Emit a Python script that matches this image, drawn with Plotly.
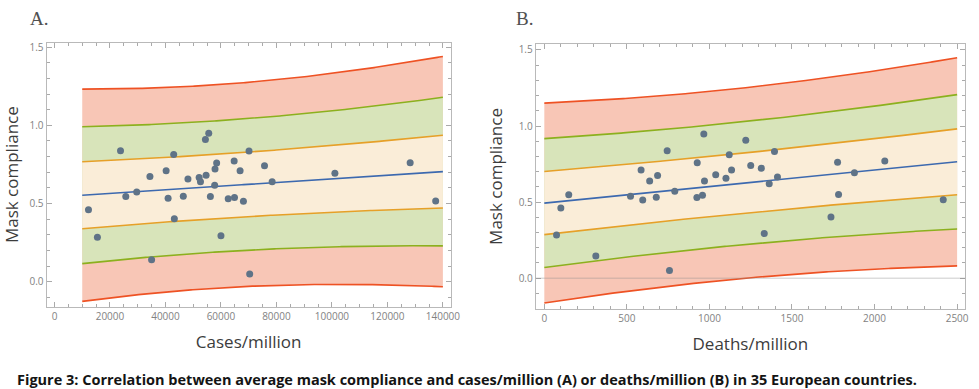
import numpy as np
import plotly.graph_objects as go

# ---------------- data ----------------
cases_per_million = [12250, 15470, 23800, 25700, 29640, 34400, 35000, 40240, 40950, 42970,
                     43200, 46430, 48100, 52140, 52620, 54400, 55600, 54640, 56190, 57740,
                     57860, 58450, 60000, 62620, 64760, 64880, 66900, 68100, 70120, 70360,
                     75700, 78450, 101070, 128200, 137400]
compliance_a = [0.461, 0.285, 0.837, 0.545, 0.573, 0.672, 0.141, 0.710, 0.533, 0.814,
                0.402, 0.547, 0.657, 0.666, 0.640, 0.909, 0.949, 0.680, 0.545, 0.617,
                0.721, 0.759, 0.294, 0.531, 0.772, 0.539, 0.710, 0.514, 0.835, 0.049,
                0.742, 0.640, 0.693, 0.761, 0.516]

deaths_per_million = [74, 100, 148, 312, 522, 586, 596, 638, 678, 686,
                      744, 758, 790, 924, 926, 958, 966, 970, 1038, 1100,
                      1120, 1134, 1220, 1250, 1314, 1332, 1362, 1394, 1412, 1736,
                      1776, 1782, 1878, 2062, 2416]
compliance_b = [0.284, 0.461, 0.548, 0.145, 0.539, 0.711, 0.513, 0.639, 0.532, 0.674,
                0.837, 0.050, 0.571, 0.530, 0.759, 0.545, 0.948, 0.639, 0.680, 0.656,
                0.811, 0.711, 0.907, 0.741, 0.722, 0.293, 0.620, 0.833, 0.665, 0.402,
                0.761, 0.550, 0.693, 0.770, 0.515]

# prediction band levels (t quantiles for 1, 2, 3 sigma coverage)
band_levels = [3.21, 2.07, 1.014]
band_fill = ["rgb(248,198,182)", "rgb(216,228,186)", "rgb(250,237,216)"]
band_line = ["rgb(238,82,36)", "rgb(140,176,30)", "rgb(230,160,40)"]

range_a = [10000, 140000]
range_b = [0, 2500]

x_ticks_a = [0, 20000, 40000, 60000, 80000, 100000, 120000, 140000]
x_ticks_b = [0, 500, 1000, 1500, 2000, 2500]
y_ticks = [0.0, 0.5, 1.0, 1.5]


def fit(x, y):
    x = np.asarray(x, float)
    y = np.asarray(y, float)
    n = len(x)
    xbar = x.mean()
    sxx = ((x - xbar) ** 2).sum()
    b = ((x - xbar) * (y - y.mean())).sum() / sxx
    a = y.mean() - b * xbar
    s = np.sqrt(((y - a - b * x) ** 2).sum() / (n - 2))
    return a, b, s, n, xbar, sxx


fig = go.Figure()


def add_panel(xs, ys, xr, xaxis, yaxis):
    a, b, s, n, xbar, sxx = fit(xs, ys)
    xg = np.linspace(xr[0], xr[1], 200)
    yhat = a + b * xg
    se = s * np.sqrt(1 + 1 / n + (xg - xbar) ** 2 / sxx)
    for k, fc, lc in zip(band_levels, band_fill, band_line):
        lo = yhat - k * se
        hi = yhat + k * se
        fig.add_trace(go.Scatter(x=np.concatenate([xg, xg[::-1]]),
                                 y=np.concatenate([lo, hi[::-1]]),
                                 fill="toself", fillcolor=fc, mode="none",
                                 hoverinfo="skip", showlegend=False,
                                 xaxis=xaxis, yaxis=yaxis))
    for k, fc, lc in zip(band_levels, band_fill, band_line):
        for sign in (-1, 1):
            fig.add_trace(go.Scatter(x=xg, y=yhat + sign * k * se, mode="lines",
                                     line=dict(color=lc, width=1.6),
                                     hoverinfo="skip", showlegend=False,
                                     xaxis=xaxis, yaxis=yaxis))
    fig.add_trace(go.Scatter(x=xg, y=yhat, mode="lines",
                             line=dict(color="rgb(60,105,175)", width=1.6),
                             showlegend=False, xaxis=xaxis, yaxis=yaxis))
    fig.add_trace(go.Scatter(x=xs, y=ys, mode="markers",
                             marker=dict(color="rgb(95,115,135)", size=7),
                             showlegend=False, xaxis=xaxis, yaxis=yaxis))


add_panel(cases_per_million, compliance_a, range_a, "x", "y")
add_panel(deaths_per_million, compliance_b, range_b, "x2", "y2")

frame = dict(showline=True, linecolor="rgb(185,185,185)", linewidth=1, mirror="ticks",
             ticks="inside", ticklen=5, tickcolor="rgb(170,170,170)", showgrid=False,
             zeroline=False, tickfont=dict(family="Open Sans", size=10, color="rgb(130,130,130)"))
title_font = dict(family="Open Sans", size=17, color="rgb(60,60,60)")
minor_small = dict(ticks="inside", ticklen=3, tickcolor="rgb(170,170,170)", showgrid=False)

fig.update_layout(
    width=979, height=389, margin=dict(l=0, r=0, t=0, b=0),
    paper_bgcolor="white", plot_bgcolor="white",
    xaxis=dict(frame, domain=[47 / 979, 455 / 979], range=[-2857, 142857],
               tickvals=x_ticks_a, ticktext=[str(v) for v in x_ticks_a],
               minor=dict(minor_small, dtick=5000), anchor="y",
               title=dict(text="Cases/million", font=title_font, standoff=14)),
    yaxis=dict(frame, domain=[1 - 306 / 389, 1 - 40 / 389], range=[-0.159, 1.528],
               tickvals=y_ticks, tickformat=".1f",
               minor=dict(minor_small, dtick=0.1), anchor="x",
               title=dict(text="Mask compliance", font=title_font, standoff=11)),
    xaxis2=dict(frame, domain=[540.7 / 979, 974 / 979], range=[-52, 2548],
                tickvals=x_ticks_b, ticktext=[str(v) for v in x_ticks_b],
                minor=dict(minor_small, dtick=100), anchor="y2",
                title=dict(text="Deaths/million", font=title_font, standoff=14)),
    yaxis2=dict(frame, domain=[1 - 308.3 / 389, 1 - 41.3 / 389], range=[-0.202, 1.539],
                tickvals=y_ticks, tickformat=".1f",
                minor=dict(minor_small, dtick=0.1), anchor="x2",
                title=dict(text="Mask compliance", font=title_font, standoff=11)),
)

# zero axis line in panel B (drawn over the bands)
fig.add_shape(type="line", xref="x2 domain", yref="y2", x0=0, x1=1, y0=0, y1=0,
              line=dict(color="rgba(140,140,140,0.45)", width=1), layer="above")

fig.add_annotation(text="A.", xref="paper", yref="paper", x=28 / 979, y=1 - 16 / 389,
                   xanchor="left", yanchor="middle", showarrow=False,
                   font=dict(family="Liberation Serif", size=19, color="rgb(80,80,80)"))
fig.add_annotation(text="B.", xref="paper", yref="paper", x=519 / 979, y=1 - 16 / 389,
                   xanchor="left", yanchor="middle", showarrow=False,
                   font=dict(family="Liberation Serif", size=19, color="rgb(80,80,80)"))
fig.add_annotation(text="<b>Figure 3: Correlation between average mask compliance and cases/million (A) or deaths/million (B) in 35 European countries.</b>",
                   xref="paper", yref="paper", x=15 / 979, y=1 - 379 / 389,
                   xanchor="left", yanchor="middle", showarrow=False,
                   font=dict(family="Open Sans", size=14.5, color="rgb(20,20,20)"))

fig.write_html("out.html", config={"displayModeBar": False},
               post_script="document.body.style.margin='0px';document.body.style.overflow='hidden';")
